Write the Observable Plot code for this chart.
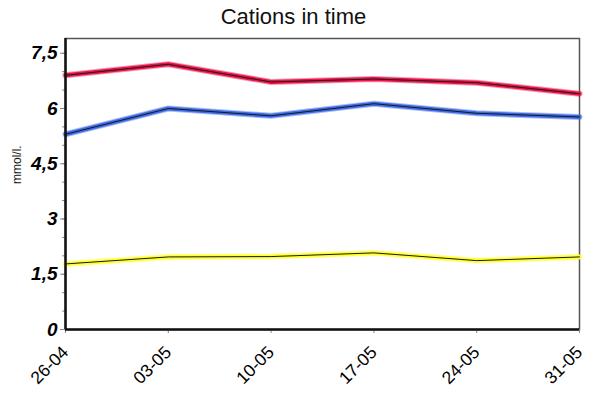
<!DOCTYPE html>
<html><head><meta charset="utf-8">
<script src="https://cdn.jsdelivr.net/npm/d3@7"></script>
<script src="https://cdn.jsdelivr.net/npm/@observablehq/plot@0.6"></script>
<style>
body{margin:0;background:#fff;font-family:"Liberation Sans",Arial,sans-serif;}
#title{width:587px;height:30px;line-height:33px;text-align:center;font-size:22px;color:#111;overflow:visible;white-space:nowrap;}
</style></head><body>
<div id="title">Cations in time</div>
<div id="chart"></div>
<script>
const dates = ["2010-04-26","2010-05-03","2010-05-10","2010-05-17","2010-05-24","2010-05-31"];
const tickLabels = ["26-04","03-05","10-05","17-05","24-05","31-05"];
const redValues = [6.9, 7.2, 6.72, 6.8, 6.7, 6.4];
const blueValues = [5.3, 6.0, 5.8, 6.13, 5.87, 5.77];
const yellowValues = [1.78, 1.97, 1.98, 2.08, 1.87, 1.97];
const yTicks = [0, 1.5, 3, 4.5, 6, 7.5];
const yMinorTicks = [0,0.5,1,1.5,2,2.5,3,3.5,4,4.5,5,5.5,6,6.5,7,7.5];
const yLabel = "mmol/l.";

const parsed = dates.map(d => new Date(d + "T00:00:00Z"));
const labelOf = new Map(parsed.map((d, i) => [+d, tickLabels[i]]));
const series = [
  {name: "red", color: "#ea1048", values: redValues},
  {name: "blue", color: "#3b6ae8", values: blueValues},
  {name: "yellow", color: "#ffff30", values: yellowValues}
];
const rows = series.flatMap(s => s.values.map((v, i) => ({series: s.name, color: s.color, date: parsed[i], value: v})));

const chart = Plot.plot({
  width: 597,
  height: 364,
  marginTop: 8,
  marginBottom: 65,
  marginLeft: 65,
  marginRight: 18,
  style: {fontFamily: "Liberation Sans, Arial, sans-serif", background: "#fff"},
  x: {type: "utc", domain: [parsed[0], parsed[parsed.length - 1]], label: null},
  y: {domain: [0, 7.9], label: null},
  marks: [
    Plot.frame({stroke: "#555", strokeWidth: 1.5}),
    Plot.axisY({ticks: yMinorTicks, tickSize: 3, text: null, stroke: "#888", label: null}),
    Plot.axisY({ticks: yTicks, tickSize: 5, tickPadding: 3, stroke: "#888", fill: "#000",
      tickFormat: d => String(d).replace(".", ","), fontSize: 19, fontWeight: "bold", fontStyle: "italic", label: null}),
    Plot.axisX({ticks: parsed, tickSize: 4, stroke: "#888", text: null, label: null}),
    Plot.axisX({ticks: parsed, tickSize: 4, stroke: "none", fill: "#000", tickRotate: -45, fontSize: 17.5,
      tickPadding: 4, dy: 12, dx: 0, tickFormat: d => labelOf.get(+d), label: null}),
    ...series.map(s => Plot.lineY(rows.filter(r => r.series === s.name), {x: "date", y: "value", stroke: s.color, strokeWidth: 6, strokeOpacity: 0.45})),
    ...series.map(s => Plot.lineY(rows.filter(r => r.series === s.name), {x: "date", y: "value", stroke: s.color, strokeWidth: 4})),
    ...series.map(s => Plot.lineY(rows.filter(r => r.series === s.name), {x: "date", y: "value", stroke: "#1a1a1a", strokeWidth: 1})),
    Plot.ruleY([0], {stroke: "#111", strokeWidth: 2.5}),
    Plot.ruleX([parsed[0]], {stroke: "#111", strokeWidth: 2.5}),
    Plot.text([yLabel], {frameAnchor: "left", dx: -48, rotate: -90, fontSize: 12, fill: "#111"})
  ]
});
document.getElementById("chart").appendChild(chart);
</script>
</body></html>
